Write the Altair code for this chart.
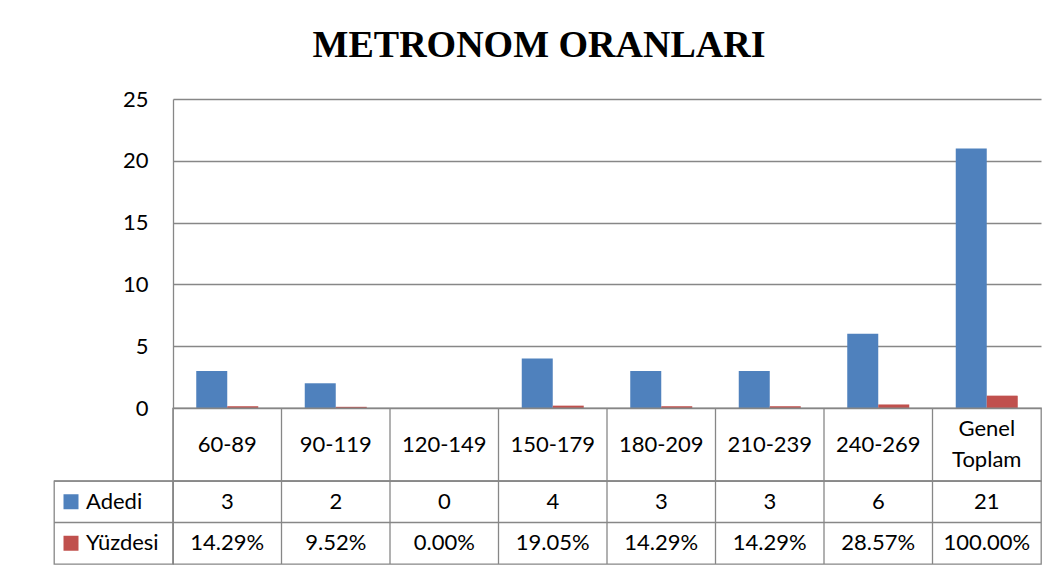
import altair as alt
import pandas as pd

# ---- data ----
categories = ["60-89", "90-119", "120-149", "150-179", "180-209", "210-239", "240-269", "Genel Toplam"]
adedi = [3, 2, 0, 4, 3, 3, 6, 21]
yuzdesi = [0.1429, 0.0952, 0.0, 0.1905, 0.1429, 0.1429, 0.2857, 1.0]
series = ["Adedi", "Yüzdesi"]
colors = ["#4F81BD", "#C0504D"]
y_ticks = [0, 5, 10, 15, 20, 25]
title_text = "METRONOM ORANLARI"

GRID = "#878787"
LW = 1.3
FONT = "Lato"
FS = 22
LH = 31

bars_df = pd.DataFrame({
    "cat": categories * 2,
    "series": [series[0]] * len(categories) + [series[1]] * len(categories),
    "value": adedi + yuzdesi,
})
header_df = pd.DataFrame({"cat": categories,
                          "label": [c.replace(" ", "\n") for c in categories]})
header_df["multi"] = header_df["label"].str.contains("\n")
rows_df = pd.DataFrame({
    "cat": categories * 2,
    "row": [series[0]] * len(categories) + [series[1]] * len(categories),
    "label": [str(v) for v in adedi] + [f"{v * 100:.2f}%" for v in yuzdesi],
})
legend_df = pd.DataFrame({"row": series})

xscale = alt.Scale(domain=categories, paddingInner=0, paddingOuter=0)
x_enc = alt.X("cat:N", sort=categories, scale=xscale, axis=None)
x_edge = alt.X("cat:N", sort=categories, scale=xscale, axis=None, bandPosition=0)
yrow_scale = alt.Scale(domain=series, paddingInner=0, paddingOuter=0)
y_rows = alt.Y("row:N", sort=series, scale=yrow_scale, axis=None)
y_row_edge = alt.Y("row:N", sort=series, scale=yrow_scale, axis=None, bandPosition=0)

# ---- bars ----
bars = alt.Chart(bars_df).mark_bar().encode(
    x=x_enc,
    xOffset=alt.XOffset("series:N", sort=series,
                        scale=alt.Scale(domain=series, paddingInner=0, paddingOuter=0.75)),
    y=alt.Y("value:Q", scale=alt.Scale(domain=[0, 25], nice=False),
            axis=alt.Axis(values=y_ticks, title=None, grid=True, gridColor=GRID,
                          gridWidth=LW, domain=True, domainColor=GRID, domainWidth=LW,
                          ticks=False, labelFont=FONT, labelFontSize=FS,
                          labelColor="black", labelPadding=25)),
    color=alt.Color("series:N", sort=series,
                    scale=alt.Scale(domain=series, range=colors), legend=None),
).properties(width=868, height=309, view=alt.ViewBackground(stroke=None))

# ---- header row (category labels) ----
header_base = alt.Chart(header_df)
header_single = header_base.mark_text(
    font=FONT, fontSize=FS, color="black"
).encode(x=x_enc, text="label:N").transform_filter("!datum.multi")
header_multi = header_base.mark_text(
    font=FONT, fontSize=FS, lineBreak="\n", lineHeight=LH, color="black", dy=-LH / 2
).encode(x=x_enc, text="label:N").transform_filter("datum.multi")
header_rules = header_base.mark_rule(color=GRID, strokeWidth=LW).encode(x=x_edge)
header = alt.layer(header_rules, header_single, header_multi).properties(
    width=868, height=73, view=alt.ViewBackground(stroke=GRID, strokeWidth=LW))

# ---- data rows ----
rows_text = alt.Chart(rows_df).mark_text(font=FONT, fontSize=FS, color="black").encode(
    x=x_enc, y=y_rows, text="label:N")
rows_vr = alt.Chart(header_df).mark_rule(color=GRID, strokeWidth=LW).encode(x=x_edge)
rows_hr = alt.Chart(legend_df).mark_rule(color=GRID, strokeWidth=LW).encode(y=y_row_edge)
rows = alt.layer(rows_vr, rows_hr, rows_text).properties(
    width=868, height=83, view=alt.ViewBackground(stroke=GRID, strokeWidth=LW))

# ---- legend column ----
leg_hr = alt.Chart(legend_df).mark_rule(color=GRID, strokeWidth=LW).encode(y=y_row_edge)
leg_sw = alt.Chart(legend_df).mark_square(size=225, opacity=1, filled=True).encode(
    x=alt.value(17), y=y_rows,
    color=alt.Color("row:N", sort=series, scale=alt.Scale(domain=series, range=colors),
                    legend=None))
leg_tx = alt.Chart(legend_df).mark_text(align="left", font=FONT, fontSize=FS,
                                        color="black").encode(
    x=alt.value(32), y=y_rows, text="row:N")
legend = alt.layer(leg_hr, leg_sw, leg_tx).properties(
    width=119, height=83, view=alt.ViewBackground(stroke=GRID, strokeWidth=LW))

blank = alt.Chart(pd.DataFrame({"a": [0]})).mark_point(opacity=0).properties(
    width=1, height=1, view=alt.ViewBackground(stroke=None))

chart = alt.concat(
    blank, bars, blank, header, legend, rows,
    columns=2, spacing=0, bounds="flush", align="each",
).properties(
    title=alt.TitleParams(title_text, font="Liberation Serif", fontSize=38,
                          fontWeight="bold", color="black", anchor="middle",
                          dx=-8, offset=23),
    padding={"left": 43, "top": 19, "right": 10, "bottom": 5},
).configure_view(stroke=None)

chart.save("out.html", embed_options={"renderer": "svg", "actions": False})
